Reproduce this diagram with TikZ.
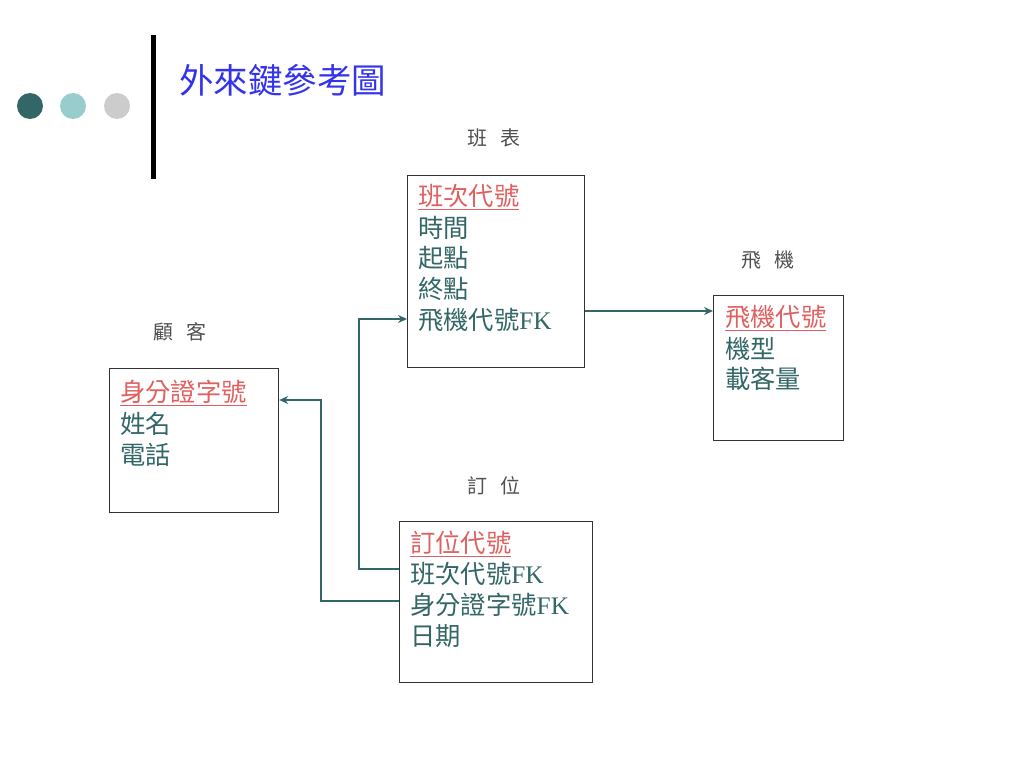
\documentclass[tikz,border=0pt]{standalone}
\usepackage{fontspec}
\setmainfont{Liberation Serif}
\newfontfamily\cjk{Noto Sans CJK TC}
\usetikzlibrary{arrows.meta,calc}
\definecolor{dotA}{HTML}{336666}
\definecolor{dotB}{HTML}{99CCCC}
\definecolor{dotC}{HTML}{CCCCCC}
\definecolor{titleblue}{HTML}{3333EE}
\definecolor{bodytext}{HTML}{336666}
\definecolor{keyred}{HTML}{E06060}
\definecolor{labgray}{HTML}{505050}
\definecolor{boxline}{HTML}{333333}
\definecolor{linkcol}{HTML}{336666}
\tikzset{
  tbl/.style={draw=boxline, line width=1.2pt, rectangle, inner sep=0pt, anchor=north west},
  fld/.style={anchor=west, inner sep=0pt, text=bodytext, font=\fontsize{25.3}{25.3}\selectfont},
  pk/.style={fld, text=keyred},
  lab/.style={inner sep=0pt, text=labgray, font=\cjk\fontsize{20}{20}\selectfont},
  link/.style={draw=linkcol, line width=1.4pt, -{Stealth[length=9pt,width=8pt]}},
}
\newcommand{\labgap}{\hspace{13pt}}
\begin{document}
\begin{tikzpicture}[x=1pt,y=-1pt]
\useasboundingbox (0,0) rectangle (1024,768);
% decoration
\fill[dotA] (30,106) circle (13);
\fill[dotB] (73,106) circle (13);
\fill[dotC] (117,106) circle (13);
\fill[black] (151,35) rectangle (156,179);
\node[anchor=west, inner sep=0pt, text=titleblue, font=\cjk\fontsize{34.5}{34.5}\selectfont] (title) at (179,80) {外來鍵參考圖};
% labels
\node[lab] (lflight) at (494,138) {班\labgap 表};
\node[lab] (lplane) at (768,260) {飛\labgap 機};
\node[lab] (lcust) at (180,332) {顧\labgap 客};
\node[lab] (lbook) at (494,486) {訂\labgap 位};
% tables
\node[tbl, minimum width=177pt, minimum height=192pt] (flight) at (407,175) {};
\node[tbl, minimum width=130pt, minimum height=145pt] (plane) at (713,295) {};
\node[tbl, minimum width=169pt, minimum height=144pt] (cust) at (109,368) {};
\node[tbl, minimum width=193pt, minimum height=161pt] (book) at (399,521) {};
% flight fields
\node[pk] (f1) at (418,197) {\underline{\cjk 班次代號}};
\node[fld] (f2) at (418,228) {\cjk 時間};
\node[fld] (f3) at (418,258) {\cjk 起點};
\node[fld] (f4) at (418,289) {\cjk 終點};
\node[fld] (f5) at (418,320) {{\cjk 飛機代號}FK};
% plane fields
\node[pk] (p1) at (725,318) {\underline{\cjk 飛機代號}};
\node[fld] (p2) at (725,349) {\cjk 機型};
\node[fld] (p3) at (725,379) {\cjk 載客量};
% customer fields
\node[pk] (c1) at (120,393) {\underline{\cjk 身分證字號}};
\node[fld] (c2) at (120,424) {\cjk 姓名};
\node[fld] (c3) at (120,455) {\cjk 電話};
% booking fields
\node[pk] (b1) at (410,544) {\underline{\cjk 訂位代號}};
\node[fld] (b2) at (410,574) {{\cjk 班次代號}FK};
\node[fld] (b3) at (410,605) {{\cjk 身分證字號}FK};
\node[fld] (b4) at (410,636) {\cjk 日期};
% connectors
\draw[link] ($(flight.north east)+(0,136)$) -- ($(plane.north west)+(0,16)$);
\coordinate (bA) at ($(book.north west)+(0,48)$);
\coordinate (bB) at ($(book.north west)+(0,80)$);
\draw[link] (bA) -- ++(-40,0) |- ($(flight.north west)+(0,144)$);
\draw[link] (bB) -- ++(-78,0) |- ($(cust.north east)+(0,32)$);
\end{tikzpicture}
\end{document}
